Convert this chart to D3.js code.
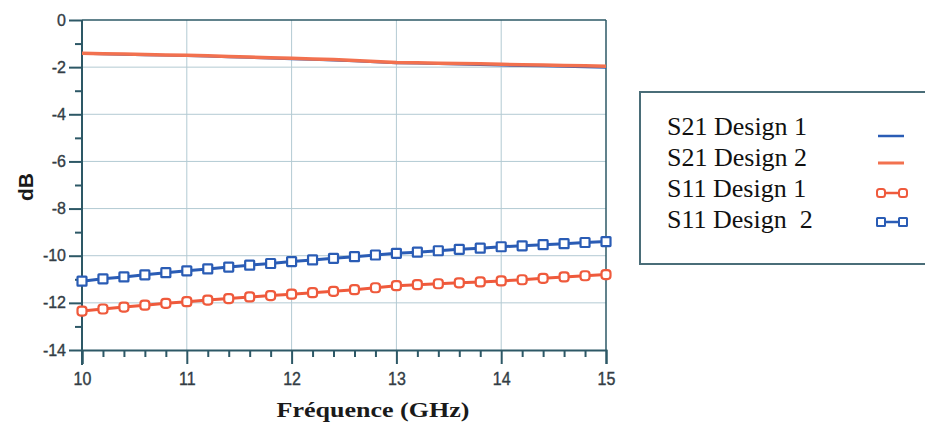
<!DOCTYPE html>
<html>
<head>
<meta charset="utf-8">
<script src="https://cdn.jsdelivr.net/npm/d3@7"></script>
<style>
html, body { margin: 0; padding: 0; background: #ffffff; }
svg { display: block; }
</style>
</head>
<body>
<svg id="chart" width="925" height="423"></svg>
<script>
// ---- data ----
const freq = [10.0,10.2,10.4,10.6,10.8,11.0,11.2,11.4,11.6,11.8,12.0,12.2,12.4,12.6,12.8,13.0,13.2,13.4,13.6,13.8,14.0,14.2,14.4,14.6,14.8,15.0];
const s21Design1 = [-1.42,-1.44,-1.46,-1.48,-1.50,-1.52,-1.54,-1.57,-1.59,-1.62,-1.65,-1.68,-1.71,-1.74,-1.78,-1.82,-1.84,-1.86,-1.88,-1.90,-1.92,-1.94,-1.95,-1.97,-1.99,-2.01];
const s21Design2 = [-1.41,-1.43,-1.44,-1.46,-1.48,-1.50,-1.52,-1.55,-1.57,-1.60,-1.62,-1.65,-1.68,-1.72,-1.76,-1.80,-1.81,-1.83,-1.85,-1.86,-1.88,-1.90,-1.91,-1.93,-1.94,-1.96];
const s11Design1 = [-12.35,-12.26,-12.18,-12.10,-12.02,-11.95,-11.88,-11.82,-11.75,-11.69,-11.63,-11.57,-11.51,-11.44,-11.36,-11.27,-11.23,-11.19,-11.15,-11.11,-11.07,-11.02,-10.96,-10.90,-10.85,-10.80];
const s11Design2 = [-11.08,-10.98,-10.90,-10.81,-10.72,-10.64,-10.56,-10.48,-10.40,-10.33,-10.25,-10.18,-10.11,-10.04,-9.97,-9.90,-9.85,-9.79,-9.73,-9.68,-9.62,-9.58,-9.53,-9.49,-9.44,-9.40];
const xTicks = [10, 11, 12, 13, 14, 15];
const xMinorTicks = [10.2,10.4,10.6,10.8,11.2,11.4,11.6,11.8,12.2,12.4,12.6,12.8,13.2,13.4,13.6,13.8,14.2,14.4,14.6,14.8];
const yTicks = [0, -2, -4, -6, -8, -10, -12, -14];
const yMinorTicks = [-1, -3, -5, -7, -9, -11, -13];
const legendLabels = ["S21 Design 1", "S21 Design 2", "S11 Design 1", "S11 Design  2"];
const xTitle = "Fréquence (GHz)";
const yTitle = "dB";

// ---- layout ----
const L = 82, R = 606, T = 20, B = 350;
const axisColor = "#2d5866";
const gridColor = "#b3cad3";
const blue = "#2a5cb5";
const orange = "#f2714f";
const red = "#ef5a3c";
const tickFont = "Liberation Sans, Arial, sans-serif";

const svg = d3.select("#chart");
const x = d3.scaleLinear().domain([10, 15]).range([L, R]);
const y = d3.scaleLinear().domain([-14, 0]).range([B, T]);

// grid
svg.append("g").selectAll("line").data(xTicks.slice(1, -1)).join("line")
  .attr("x1", d => x(d)).attr("x2", d => x(d)).attr("y1", T).attr("y2", B)
  .attr("stroke", gridColor).attr("stroke-width", 1);
svg.append("g").selectAll("line").data(yTicks.slice(1, -1)).join("line")
  .attr("x1", L).attr("x2", R).attr("y1", d => y(d)).attr("y2", d => y(d))
  .attr("stroke", gridColor).attr("stroke-width", 1);

// frame top/right
svg.append("line").attr("x1", L).attr("x2", R).attr("y1", T).attr("y2", T)
  .attr("stroke", axisColor).attr("stroke-width", 1.5);
svg.append("line").attr("x1", R).attr("x2", R).attr("y1", T).attr("y2", B)
  .attr("stroke", axisColor).attr("stroke-width", 1.5);

// x axis
const xAxisMajor = d3.axisBottom(x).tickValues(xTicks).tickSize(14).tickPadding(5).tickFormat(d3.format("d"));
const gx = svg.append("g").attr("transform", `translate(0,${B})`).call(xAxisMajor);
gx.attr("font-size", null).attr("font-family", null);
gx.select(".domain").attr("stroke", axisColor).attr("stroke-width", 2);
gx.selectAll(".tick line").attr("stroke", axisColor).attr("stroke-width", 2);
gx.selectAll(".tick text").attr("fill", "#333d45").style("font-family", tickFont)
  .style("font-size", "16px").attr("stroke", "#333d45").attr("stroke-width", 0.35)
  .attr("dy", "0.75em").attr("transform", "scale(1,1.12)");
const xAxisMinor = d3.axisBottom(x).tickValues(xMinorTicks).tickSize(7).tickFormat("");
const gxm = svg.append("g").attr("transform", `translate(0,${B})`).call(xAxisMinor);
gxm.select(".domain").remove();
gxm.selectAll(".tick line").attr("stroke", axisColor).attr("stroke-width", 2);

// y axis
const yAxisMajor = d3.axisLeft(y).tickValues(yTicks).tickSize(13).tickPadding(3).tickFormat(d3.format("d"));
const gy = svg.append("g").attr("transform", `translate(${L},0)`).call(yAxisMajor);
gy.attr("font-size", null).attr("font-family", null);
gy.select(".domain").attr("stroke", axisColor).attr("stroke-width", 2).attr("d", `M0,${T}V${B + 15}`);
gy.selectAll(".tick line").attr("stroke", axisColor).attr("stroke-width", 2);
gy.selectAll(".tick text").attr("fill", "#333d45").style("font-family", tickFont)
  .style("font-size", "16px").attr("stroke", "#333d45").attr("stroke-width", 0.35)
  .text(d => d === 0 ? "0" : "-" + Math.abs(d));
const yAxisMinor = d3.axisLeft(y).tickValues(yMinorTicks).tickSize(7).tickFormat("");
const gym = svg.append("g").attr("transform", `translate(${L},0)`).call(yAxisMinor);
gym.select(".domain").remove();
gym.selectAll(".tick line").attr("stroke", axisColor).attr("stroke-width", 2);

// lines
const line = vals => d3.line().x((d, i) => x(freq[i])).y(d => y(d))(vals);
svg.append("path").attr("d", line(s21Design1)).attr("fill", "none").attr("stroke", blue).attr("stroke-width", 2.5);
svg.append("path").attr("d", line(s21Design2)).attr("fill", "none").attr("stroke", orange).attr("stroke-width", 3.5);

function markerSeries(vals, color, rx) {
  svg.append("path").attr("d", line(vals)).attr("fill", "none").attr("stroke", color).attr("stroke-width", 3);
  svg.append("g").selectAll("rect").data(vals).join("rect")
    .attr("x", (d, i) => x(freq[i]) - 4.5).attr("y", d => y(d) - 4.5)
    .attr("width", 9).attr("height", 9).attr("rx", rx)
    .attr("fill", "#ffffff").attr("stroke", color).attr("stroke-width", 2.2);
}
markerSeries(s11Design1, red, 3);
markerSeries(s11Design2, blue, 0.5);

// axis titles
svg.append("text").attr("x", 373).attr("y", 417).attr("text-anchor", "middle")
  .attr("font-family", "Liberation Serif, Times New Roman, serif").attr("font-weight", "bold")
  .attr("font-size", 22).attr("fill", "#1a1a1a")
  .attr("textLength", 193).attr("lengthAdjust", "spacingAndGlyphs").text(xTitle);
svg.append("text").attr("transform", "translate(33,187) rotate(-90)").attr("text-anchor", "middle")
  .attr("font-family", "Liberation Sans, Arial, sans-serif").attr("font-weight", "bold")
  .attr("font-size", 21).attr("fill", "#1a1a1a").text(yTitle);

// legend
const lg = svg.append("g");
lg.append("rect").attr("x", 640).attr("y", 92).attr("width", 300).attr("height", 172)
  .attr("fill", "#ffffff").attr("stroke", "#4a6d78").attr("stroke-width", 2);
const rowsY = [135, 166, 197, 228];
const symY = [136, 163, 193, 222];
lg.selectAll("text").data(legendLabels).join("text")
  .attr("x", 667).attr("y", (d, i) => rowsY[i])
  .attr("font-family", "Liberation Serif, Times New Roman, serif").attr("font-size", 26)
  .attr("fill", "#111111").style("white-space", "pre").text(d => d);
const symColors = [blue, orange, red, blue];
lg.selectAll("line.sym").data(symColors).join("line").attr("class", "sym")
  .attr("x1", 878).attr("x2", 904).attr("y1", (d, i) => symY[i]).attr("y2", (d, i) => symY[i])
  .attr("stroke", d => d).attr("stroke-width", (d, i) => i === 1 ? 3 : 2.5);
[2, 3].forEach(i => {
  [881, 903].forEach(cx => {
    lg.append("rect").attr("x", cx - 4).attr("y", symY[i] - 4).attr("width", 8).attr("height", 8)
      .attr("rx", i === 2 ? 2.5 : 0.5).attr("fill", "#ffffff").attr("stroke", symColors[i]).attr("stroke-width", 2);
  });
});
</script>
</body>
</html>
